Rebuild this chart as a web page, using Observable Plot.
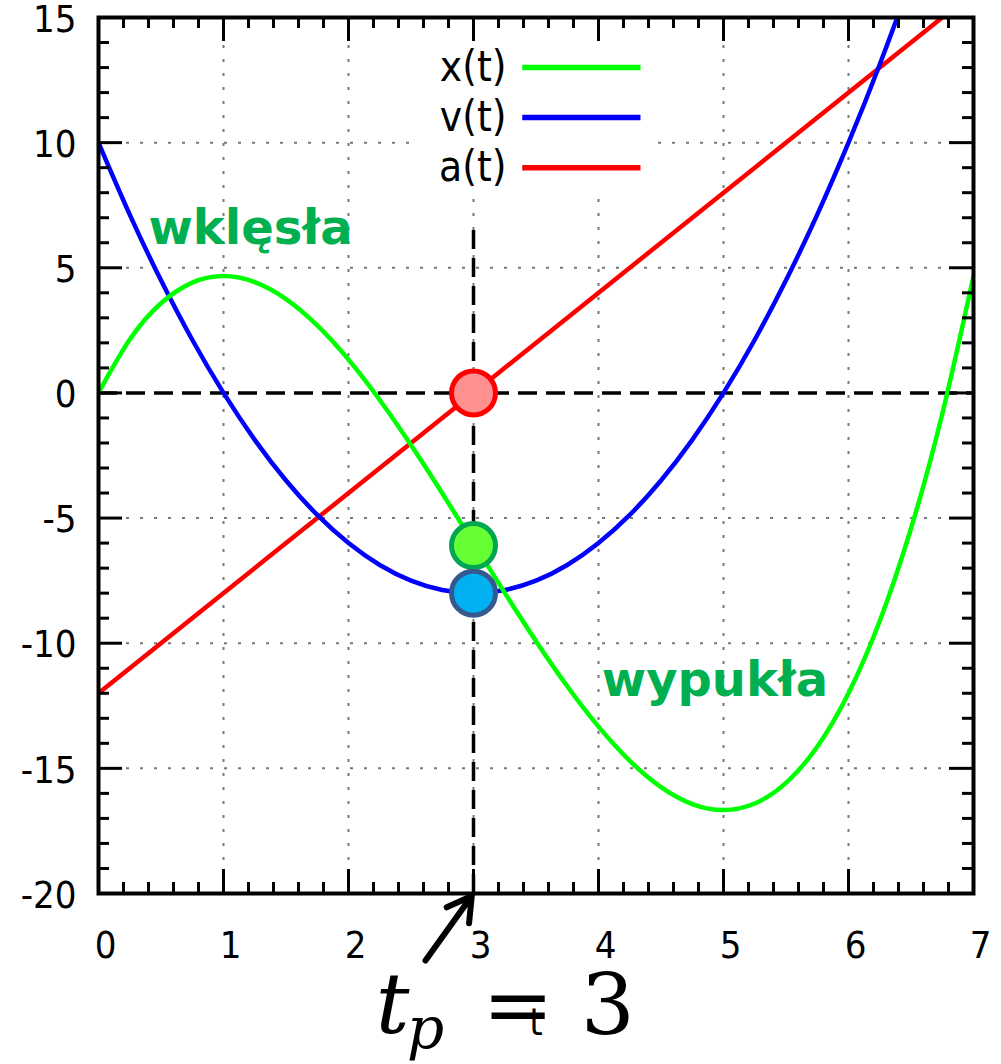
<!DOCTYPE html>
<html>
<head>
<meta charset="utf-8">
<script src="https://cdn.jsdelivr.net/npm/d3@7"></script>
<script src="https://cdn.jsdelivr.net/npm/@observablehq/plot@0.6"></script>
<style>
  html, body { margin: 0; padding: 0; background: #fff; }
  #chart svg { display: block; }
</style>
</head>
<body>
<div id="chart"></div>
<script>
// Position x(t), sampled every quarter second
const tX = [0, 0.25, 0.5, 0.75, 1, 1.25, 1.5, 1.75, 2, 2.25, 2.5, 2.75, 3, 3.25, 3.5, 3.75,
            4, 4.25, 4.5, 4.75, 5, 5.25, 5.5, 5.75, 6, 6.25, 6.5, 6.75, 7];
const xValues = [0, 2.135, 3.583, 4.406, 4.667, 4.427, 3.75, 2.698, 1.333, -0.281, -2.083, -4.01,
                 -6, -7.99, -9.917, -11.719, -13.333, -14.698, -15.75, -16.427, -16.667, -16.406,
                 -15.583, -14.135, -12, -9.115, -5.417, -0.844, 4.667];

// Velocity v(t)
const tV = [0, 0.25, 0.5, 0.75, 1, 1.25, 1.5, 1.75, 2, 2.25, 2.5, 2.75, 3, 3.25, 3.5, 3.75,
            4, 4.25, 4.5, 4.75, 5, 5.25, 5.5, 5.75, 6, 6.25, 6.5];
const vValues = [10, 7.125, 4.5, 2.125, 0, -1.875, -3.5, -4.875, -6, -6.875, -7.5, -7.875, -8,
                 -7.875, -7.5, -6.875, -6, -4.875, -3.5, -1.875, 0, 2.125, 4.5, 7.125, 10, 13.125, 16.5];

// Acceleration a(t)
const tA = [0, 3, 6.75];
const aValues = [-12, 0, 15];

// Inflection point and the values marked there
const tp = 3;
const markedNames = ["a", "x", "v"];
const markedValues = [0, -6.1, -8];

// Legend and annotation texts
const seriesNames = ["x(t)", "v(t)", "a(t)"];
const seriesColors = ["#00ff00", "#0000ff", "#ff0000"];
const regionLabels = ["wklęsła", "wypukła"];

// Axis ticks
const xMajor = [0, 1, 2, 3, 4, 5, 6, 7];
const xMinor = d3.range(0, 36).map(i => i / 5).filter(v => !Number.isInteger(v));
const yMajor = [-20, -15, -10, -5, 0, 5, 10, 15];
const yMinor = d3.range(-20, 16).filter(v => v % 5 !== 0);
const xGrid = [1, 2, 3, 4, 5, 6];
const yGrid = [-15, -10, -5, 5, 10];

const rows = (ts, vs) => ts.map((t, i) => ({t, value: vs[i]}));
const xRows = rows(tX, xValues);
const vRows = rows(tV, vValues);
const aRows = rows(tA, aValues);
const marked = markedNames.map((name, i) => ({name, t: tp, value: markedValues[i]}));

const W = 1001, H = 1064;
const M = {top: 17, right: 28, bottom: 171, left: 98};
const plotW = W - M.left - M.right;
const plotH = H - M.top - M.bottom;
const minorLen = 11, majorLen = 24;
const yMin = -20;

const sansCond = "'DejaVu Sans Condensed', 'DejaVu Sans', sans-serif";
const sansBold = "'DejaVu Sans', sans-serif";
const serif = "'DejaVu Serif', serif";
const tickStyle = {stroke: "black", strokeWidth: 3};
const gridStyle = {stroke: "#777", strokeWidth: 2, strokeDasharray: "3,11"};
const dashStyle = {stroke: "black", strokeWidth: 3.5, strokeDasharray: "19,9"};
const curveWidth = 4.5;

const dotFill = {a: "#ff9090", x: "#66ff33", v: "#00b0f0"};
const dotStroke = {a: "#ff0000", x: "#00a650", v: "#35598f"};

const chart = Plot.plot({
  width: W,
  height: H,
  marginTop: M.top,
  marginRight: M.right,
  marginBottom: M.bottom,
  marginLeft: M.left,
  x: {domain: [0, 7], label: null},
  y: {domain: [yMin, 15], label: null},
  style: {fontFamily: sansCond, background: "white", color: "black"},
  marks: [
    // dotted grid
    Plot.ruleX(xGrid, gridStyle),
    Plot.ruleY(yGrid, gridStyle),
    // opaque key box
    Plot.rect([0], {x1: 2.5, x2: 4.45, y1: 7.8, y2: 15, fill: "white"}),
    // dashed guides through the zero level and the inflection time
    Plot.ruleY([0], dashStyle),
    Plot.ruleX([tp], {y1: yMin, y2: 6.5, ...dashStyle}),
    // curves
    Plot.line(aRows, {x: "t", y: "value", stroke: seriesColors[2], strokeWidth: curveWidth, clip: true}),
    Plot.line(vRows, {x: "t", y: "value", stroke: seriesColors[1], strokeWidth: curveWidth, curve: "natural", clip: true}),
    Plot.line(xRows, {x: "t", y: "value", stroke: seriesColors[0], strokeWidth: curveWidth, curve: "natural", clip: true}),
    // marked points at the inflection time
    Plot.dot(marked, {
      x: "t", y: "value", r: 22, strokeWidth: 5,
      fill: d => dotFill[d.name], stroke: d => dotStroke[d.name]
    }),
    // key
    Plot.text(seriesNames, {
      x: () => 3.264, y: (d, i) => 13 - 2 * i, text: d => d,
      textAnchor: "end", lineAnchor: "middle", fontSize: 42, fill: "black"
    }),
    Plot.link(seriesNames, {
      x1: () => 3.39, x2: () => 4.336, y1: (d, i) => 13 - 2 * i, y2: (d, i) => 13 - 2 * i,
      stroke: (d, i) => seriesColors[i], strokeWidth: 5.5
    }),
    // concavity labels
    Plot.text(regionLabels, {
      x: [1.216, 4.932], y: [6.56, -11.48], text: d => d,
      fontFamily: sansBold, fontWeight: "bold", fontSize: 48, fill: "#00b050",
      textAnchor: "middle", lineAnchor: "middle"
    }),
    // frame with inward ticks on all four sides
    Plot.frame({stroke: "black", strokeWidth: 4}),
    Plot.tickX(xMinor, {x: d => d, insetTop: plotH - minorLen, ...tickStyle}),
    Plot.tickX(xMinor, {x: d => d, insetBottom: plotH - minorLen, ...tickStyle}),
    Plot.tickX(xMajor, {x: d => d, insetTop: plotH - majorLen, ...tickStyle}),
    Plot.tickX(xMajor, {x: d => d, insetBottom: plotH - majorLen, ...tickStyle}),
    Plot.tickY(yMinor, {y: d => d, insetRight: plotW - minorLen, ...tickStyle}),
    Plot.tickY(yMinor, {y: d => d, insetLeft: plotW - minorLen, ...tickStyle}),
    Plot.tickY(yMajor, {y: d => d, insetRight: plotW - majorLen, ...tickStyle}),
    Plot.tickY(yMajor, {y: d => d, insetLeft: plotW - majorLen, ...tickStyle}),
    // tick labels
    Plot.axisX({
      ticks: xMajor, tickSize: 0, tickPadding: 38, dx: 7, label: null,
      tickFormat: d => String(d), fontSize: 38, fontFamily: sansCond
    }),
    Plot.axisY({
      ticks: yMajor, tickSize: 0, tickPadding: 22, dy: 2, label: null,
      tickFormat: d => String(d), fontSize: 38, fontFamily: sansCond
    }),
    Plot.text(["t"], {
      x: () => 3.5, frameAnchor: "bottom", dy: 129, text: d => d,
      fontSize: 38, fontFamily: sansCond, lineAnchor: "middle"
    }),
    // inflection time callout
    Plot.arrow([tp], {
      x1: d => d - 0.384, y1: yMin - 2.68, x2: d => d, y2: yMin,
      stroke: "black", strokeWidth: 6, headLength: 7, insetEnd: 3
    }),
    Plot.text(["t"], {
      x: () => tp, frameAnchor: "bottom", dx: -81, dy: 113, text: d => d,
      fontFamily: serif, fontStyle: "italic", fontSize: 84, lineAnchor: "middle", textAnchor: "middle"
    }),
    Plot.text(["p"], {
      x: () => tp, frameAnchor: "bottom", dx: -48, dy: 136, text: d => d,
      fontFamily: serif, fontStyle: "italic", fontSize: 58, lineAnchor: "middle", textAnchor: "middle"
    }),
    Plot.text(["= " + tp], {
      x: () => tp, frameAnchor: "bottom", dx: 9, dy: 113, text: d => d,
      fontFamily: serif, fontSize: 85, lineAnchor: "middle", textAnchor: "start"
    })
  ]
});

document.getElementById("chart").append(chart);
</script>
</body>
</html>
